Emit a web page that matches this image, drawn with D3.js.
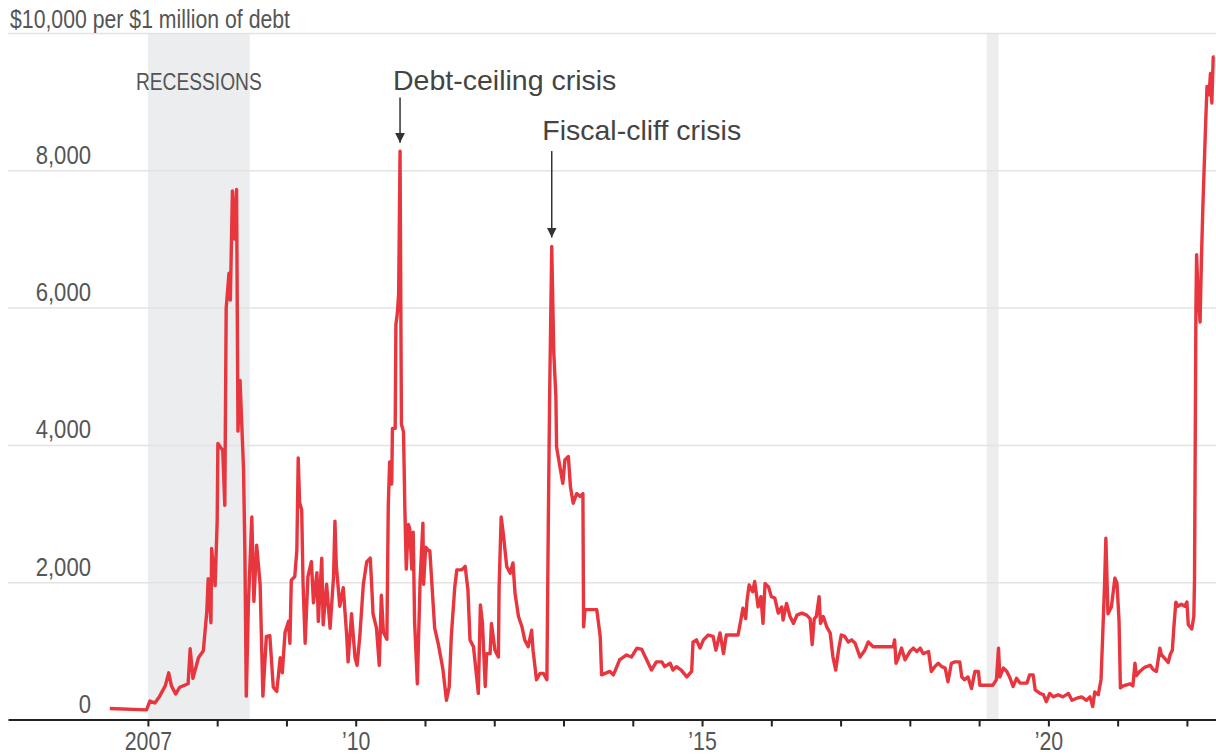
<!DOCTYPE html>
<html>
<head>
<meta charset="utf-8">
<script src="https://cdn.jsdelivr.net/npm/d3@7"></script>
<style>
  body { margin: 0; background: #fff; }
  svg { display: block; }
</style>
</head>
<body>
<div id="wrapper"></div>
<script>

// cost of insuring US debt (CDS); dates as decimal years
const dates = [
    2006.45, 2006.98,
    2007.03, 2007.10, 2007.17, 2007.25, 2007.30, 2007.34, 2007.40, 2007.46, 2007.58, 2007.61, 2007.65, 2007.73, 2007.80, 2007.85, 2007.87, 2007.91, 2007.92, 2007.97,
    2008.00, 2008.01, 2008.08, 2008.11, 2008.13, 2008.17, 2008.19, 2008.22, 2008.25, 2008.28, 2008.30, 2008.33, 2008.38, 2008.40, 2008.42, 2008.45, 2008.50, 2008.53, 2008.57, 2008.62, 2008.66, 2008.71, 2008.76, 2008.81, 2008.86, 2008.91, 2008.94, 2008.98,
    2009.03, 2009.05, 2009.07, 2009.12, 2009.15, 2009.17, 2009.19, 2009.22, 2009.24, 2009.27, 2009.31, 2009.36, 2009.39, 2009.44, 2009.46, 2009.51, 2009.53, 2009.58, 2009.63, 2009.68, 2009.70, 2009.72, 2009.77, 2009.82, 2009.87, 2009.89, 2009.94, 2009.99,
    2010.02, 2010.06, 2010.11, 2010.16, 2010.21, 2010.23, 2010.25, 2010.30, 2010.34, 2010.37, 2010.40, 2010.45, 2010.47, 2010.49, 2010.52, 2010.53, 2010.57, 2010.58, 2010.60, 2010.62, 2010.64, 2010.66, 2010.69, 2010.71, 2010.73, 2010.76, 2010.78, 2010.81, 2010.83, 2010.85, 2010.89, 2010.93, 2010.97, 2010.98,
    2011.01, 2011.05, 2011.07, 2011.10, 2011.14, 2011.19, 2011.24, 2011.26, 2011.31, 2011.35, 2011.38, 2011.43, 2011.46, 2011.53, 2011.58, 2011.62, 2011.65, 2011.70, 2011.75, 2011.77, 2011.80, 2011.83, 2011.87, 2011.89, 2011.94, 2011.96,
    2012.01, 2012.06, 2012.07, 2012.10, 2012.13, 2012.18, 2012.23, 2012.27, 2012.30, 2012.35, 2012.40, 2012.44, 2012.49, 2012.54, 2012.56, 2012.61, 2012.66, 2012.71, 2012.76, 2012.78, 2012.80, 2012.83, 2012.86, 2012.89, 2012.90, 2012.94, 2012.99,
    2013.02, 2013.07, 2013.10, 2013.14, 2013.19, 2013.24, 2013.28, 2013.29, 2013.31, 2013.48, 2013.53, 2013.55, 2013.67, 2013.72, 2013.77, 2013.81, 2013.84, 2013.91, 2013.98,
    2014.06, 2014.13, 2014.20, 2014.27, 2014.34, 2014.42, 2014.46, 2014.54, 2014.58, 2014.63, 2014.70, 2014.78, 2014.85, 2014.87, 2014.92, 2014.97,
    2015.02, 2015.09, 2015.16, 2015.20, 2015.26, 2015.31, 2015.35, 2015.52, 2015.56, 2015.59, 2015.63, 2015.65, 2015.68, 2015.73, 2015.76, 2015.81, 2015.85, 2015.88, 2015.91, 2015.96,
    2016.00, 2016.05, 2016.10, 2016.15, 2016.17, 2016.22, 2016.27, 2016.32, 2016.37, 2016.44, 2016.51, 2016.56, 2016.59, 2016.62, 2016.65, 2016.69, 2016.71, 2016.75, 2016.80, 2016.85, 2016.89, 2016.93, 2016.97,
    2017.01, 2017.06, 2017.11, 2017.16, 2017.21, 2017.28, 2017.35, 2017.40, 2017.47, 2017.76, 2017.78, 2017.80, 2017.83, 2017.88, 2017.93,
    2018.00, 2018.05, 2018.10, 2018.15, 2018.19, 2018.27, 2018.31, 2018.36, 2018.41, 2018.46, 2018.51, 2018.55, 2018.60, 2018.65, 2018.72, 2018.75, 2018.79, 2018.84, 2018.89, 2018.94, 2018.99,
    2019.01, 2019.20, 2019.25, 2019.28, 2019.30, 2019.35, 2019.40, 2019.44, 2019.49, 2019.54, 2019.59, 2019.69, 2019.73, 2019.78, 2019.81, 2019.88, 2019.93, 2019.97,
    2020.02, 2020.07, 2020.14, 2020.21, 2020.29, 2020.34, 2020.41, 2020.48, 2020.55, 2020.60, 2020.64, 2020.67, 2020.72, 2020.76, 2020.78, 2020.81, 2020.83, 2020.86, 2020.91, 2020.96, 2020.99,
    2021.02, 2021.04, 2021.08, 2021.18, 2021.22, 2021.25, 2021.27, 2021.32, 2021.39, 2021.47, 2021.51, 2021.56, 2021.61, 2021.63, 2021.68, 2021.73, 2021.76, 2021.79, 2021.81, 2021.84, 2021.87, 2021.92, 2021.97,
    2022.00, 2022.02, 2022.07, 2022.10, 2022.11, 2022.13, 2022.14, 2022.16, 2022.19, 2022.21, 2022.23, 2022.27, 2022.29, 2022.32, 2022.34, 2022.36, 2022.38, 2022.40
]

const costs = [
    160, 140,
    270, 240, 340, 490, 680, 490, 370, 470, 520, 1030, 600, 900, 1000, 1570, 2050, 1410, 2490, 1950,
    2890, 4020, 3920, 3120, 5990, 6500, 6110, 7700, 7000, 7720, 4200, 4940, 3660, 2440, 340, 1670, 2950, 1720, 2540, 1970, 340, 1210, 1220, 470, 410, 900, 680, 1270,
    1430, 1110, 2030, 2080, 2460, 3810, 3160, 3050, 1970, 1110, 2080, 2300, 1700, 2140, 1430, 2350, 1380, 1970, 1330, 2080, 2890, 2240, 1650, 1920, 1220, 840, 1540, 900,
    790, 1220, 1970, 2300, 2350, 1970, 1540, 1330, 790, 1810, 1270, 1170, 3110, 3750, 3430, 4240, 4240, 5750, 5910, 6200, 8280, 4300, 4190, 3050, 2190, 2840, 2780, 2190, 2730, 1430, 520, 2030, 2860, 1970,
    2510, 2460, 2460, 1970, 1330, 1110, 840, 720, 280, 480, 1210, 1930, 2180, 2180, 2230, 1890, 1160, 1060, 580, 380, 1670, 1400, 480, 960, 960, 1400,
    1010, 910, 1930, 2950, 2710, 2230, 2130, 2280, 1840, 1500, 1350, 1160, 1060, 1300, 1010, 580, 670, 670, 580, 2810, 4750, 6890, 5330, 4700, 3970, 3730, 3440,
    3780, 3830, 3390, 3150, 3290, 3250, 3290, 1350, 1600, 1600, 1210, 650, 700, 650, 770, 870, 890, 940, 910,
    1040, 1020, 870, 720, 840, 840, 770, 820, 720, 770, 720, 620, 700, 1130, 1160, 1040,
    1160, 1230, 1210, 1010, 1260, 960, 1230, 1230, 1450, 1620, 1470, 1740, 1960, 1860, 2010, 1640, 1790, 1400, 1980, 1930,
    1790, 1770, 1550, 1640, 1450, 1690, 1500, 1400, 1520, 1550, 1520, 1470, 1090, 1470, 1500, 1790, 1400, 1500, 1350, 1260, 910, 720, 1010,
    1230, 1210, 1130, 1160, 1110, 910, 1010, 1130, 1060, 1060, 1160, 820, 890, 1040, 870,
    990, 1040, 990, 1040, 960, 990, 700, 770, 820, 770, 750, 550, 820, 840, 840, 620, 580, 620, 450, 700, 700,
    500, 500, 580, 1040, 620, 750, 700, 620, 480, 600, 530, 530, 650, 650, 430, 380, 360, 260,
    380, 330, 360, 330, 380, 280, 310, 330, 280, 330, 190, 400, 360, 580, 1110, 1930, 2640, 1540, 1640, 2060, 1990,
    1440, 460, 490, 520, 490, 820, 640, 700, 760, 790, 730, 700, 1040, 950, 890, 830, 950, 1010, 1320, 1710, 1650, 1680, 1650,
    1710, 1380, 1320, 1500, 2050, 5970, 6770, 6220, 5790, 6710, 7450, 8670, 9220, 9100, 9410, 8980, 9650, 9650
]

const recessionStarts = [2007.0, 2019.11]
const recessionEnds = [2008.47, 2019.28]

const yTicks = [0, 2000, 4000, 6000, 8000, 10000]
const unitLabel = "$10,000 per $1 million of debt"
const xTicks = d3.range(2007, 2023)
const xLabels = { 2007: "2007", 2010: "\u201910", 2015: "\u201915", 2020: "\u201920" }

const annotationYears = [2010.64, 2012.83]
const annotationLabels = ["Debt-ceiling crisis", "Fiscal-cliff crisis"]

// squeeze text horizontally, the original uses a narrow face
function condense(selection, factor) {
    selection.each(function () {
        const len = this.getComputedTextLength()
        d3.select(this)
            .attr("textLength", len * factor)
            .attr("lengthAdjust", "spacingAndGlyphs")
    })
}

function drawChart() {

    const dataset = dates.map((d, i) => ({ date: d, cost: costs[i] }))
    const xAccessor = d => d.date
    const yAccessor = d => d.cost

    const labelFont = '"Liberation Sans", Arial, sans-serif'

    // chart dimensions
    const dimensions = {
        width: 1216,
        height: 755,
        margin: {
            top: 33,
            right: 0,
            bottom: 35.5,
            left: 8
        }
    }
    dimensions.boundedWidth = dimensions.width - dimensions.margin.left - dimensions.margin.right
    dimensions.boundedHeight = dimensions.height - dimensions.margin.top - dimensions.margin.bottom

    const wrapper = d3.select("#wrapper")
        .append("svg")
        .attr("width", dimensions.width)
        .attr("height", dimensions.height)

    const defs = wrapper.append("defs")
    defs.append("marker")
        .attr("id", "arrowhead")
        .attr("viewBox", "0 0 10 10")
        .attr("refX", 10)
        .attr("refY", 5)
        .attr("markerUnits", "userSpaceOnUse")
        .attr("markerWidth", 10)
        .attr("markerHeight", 10)
        .attr("orient", "auto")
        .append("path")
        .attr("d", "M0,0L10,5L0,10Z")
        .attr("fill", "#333")

    const bounds = wrapper.append("g")
        .attr("transform", `translate(${dimensions.margin.left},${dimensions.margin.top})`)

    // scales
    const xScale = d3.scaleLinear()
        .domain([2004.98, 2022.42])
        .range([0, dimensions.boundedWidth])

    const yScale = d3.scaleLinear()
        .domain([0, 10000])
        .range([dimensions.boundedHeight, 0])

    // recession bands
    bounds.append("g")
        .selectAll("rect")
        .data(recessionStarts)
        .enter()
        .append("rect")
        .attr("x", d => xScale(d))
        .attr("width", (d, i) => xScale(recessionEnds[i]) - xScale(d))
        .attr("y", 0)
        .attr("height", dimensions.boundedHeight)
        .attr("fill", "#ebedef")

    bounds.append("text")
        .attr("x", (xScale(recessionStarts[0]) + xScale(recessionEnds[0])) / 2)
        .attr("y", 57)
        .attr("text-anchor", "middle")
        .style("font-family", labelFont)
        .style("font-size", "24px")
        .attr("fill", "#555")
        .text("RECESSIONS")
        .call(condense, 0.8)

    // gridlines + y labels
    const yAxisGenerator = d3.axisRight()
        .scale(yScale)
        .tickValues(yTicks)
        .tickSize(dimensions.boundedWidth)
        .tickFormat(d => d === 10000 ? unitLabel : d3.format(",")(d))

    const yAxis = bounds.append("g")
        .call(yAxisGenerator)
    yAxis.select(".domain").remove()
    yAxis.selectAll(".tick line")
        .attr("stroke", "#e3e3e3")
        .attr("stroke-width", 1.5)
    yAxis.selectAll(".tick text")
        .attr("x", d => d === 10000 ? 2 : 83)
        .attr("y", d => d === 10000 ? -6 : -7)
        .attr("dy", 0)
        .attr("text-anchor", d => d === 10000 ? "start" : "end")
        .attr("fill", "#555")
        .style("font-family", labelFont)
        .style("font-size", d => d === 10000 ? "25px" : "26px")
        .call(condense, 0.85)

    // the line
    const lineGenerator = d3.line()
        .x(d => xScale(xAccessor(d)))
        .y(d => yScale(yAccessor(d)))

    bounds.append("path")
        .attr("d", lineGenerator(dataset))
        .attr("fill", "none")
        .attr("stroke", "#e8363f")
        .attr("stroke-width", 3.4)
        .attr("stroke-linejoin", "round")

    // x axis
    const xAxisGenerator = d3.axisBottom()
        .scale(xScale)
        .tickValues(xTicks)
        .tickSize(7)
        .tickSizeOuter(0)
        .tickFormat(d => xLabels[d] || "")

    const xAxis = bounds.append("g")
        .attr("transform", `translate(0,${dimensions.boundedHeight})`)
        .call(xAxisGenerator)
    xAxis.select(".domain")
        .attr("stroke", "#222")
        .attr("stroke-width", 2)
    xAxis.selectAll(".tick line")
        .attr("stroke", "#222")
        .attr("stroke-width", 2)
    xAxis.selectAll(".tick text")
        .attr("y", 30.5)
        .attr("dy", 0)
        .attr("fill", "#555")
        .style("font-family", labelFont)
        .style("font-size", "26px")
        .call(condense, 0.82)

    // annotations
    const arrowTops = [9060, 8280]
    const arrowBottoms = [8400, 7020]
    const labelValues = [9170, 8440]
    const labelShift = [-7, -9.5]

    const notes = bounds.append("g")
        .selectAll("g")
        .data(annotationYears)
        .enter()
        .append("g")

    notes.append("line")
        .attr("x1", d => xScale(d))
        .attr("x2", d => xScale(d))
        .attr("y1", (d, i) => yScale(arrowTops[i]))
        .attr("y2", (d, i) => yScale(arrowBottoms[i]))
        .attr("stroke", "#333")
        .attr("stroke-width", 1.5)
        .attr("marker-end", "url(#arrowhead)")

    notes.append("text")
        .attr("x", (d, i) => xScale(d) + labelShift[i])
        .attr("y", (d, i) => yScale(labelValues[i]))
        .style("font-family", labelFont)
        .style("font-size", "28.5px")
        .attr("fill", "#444")
        .text((d, i) => annotationLabels[i])
}

drawChart()
</script>
</body>
</html>
